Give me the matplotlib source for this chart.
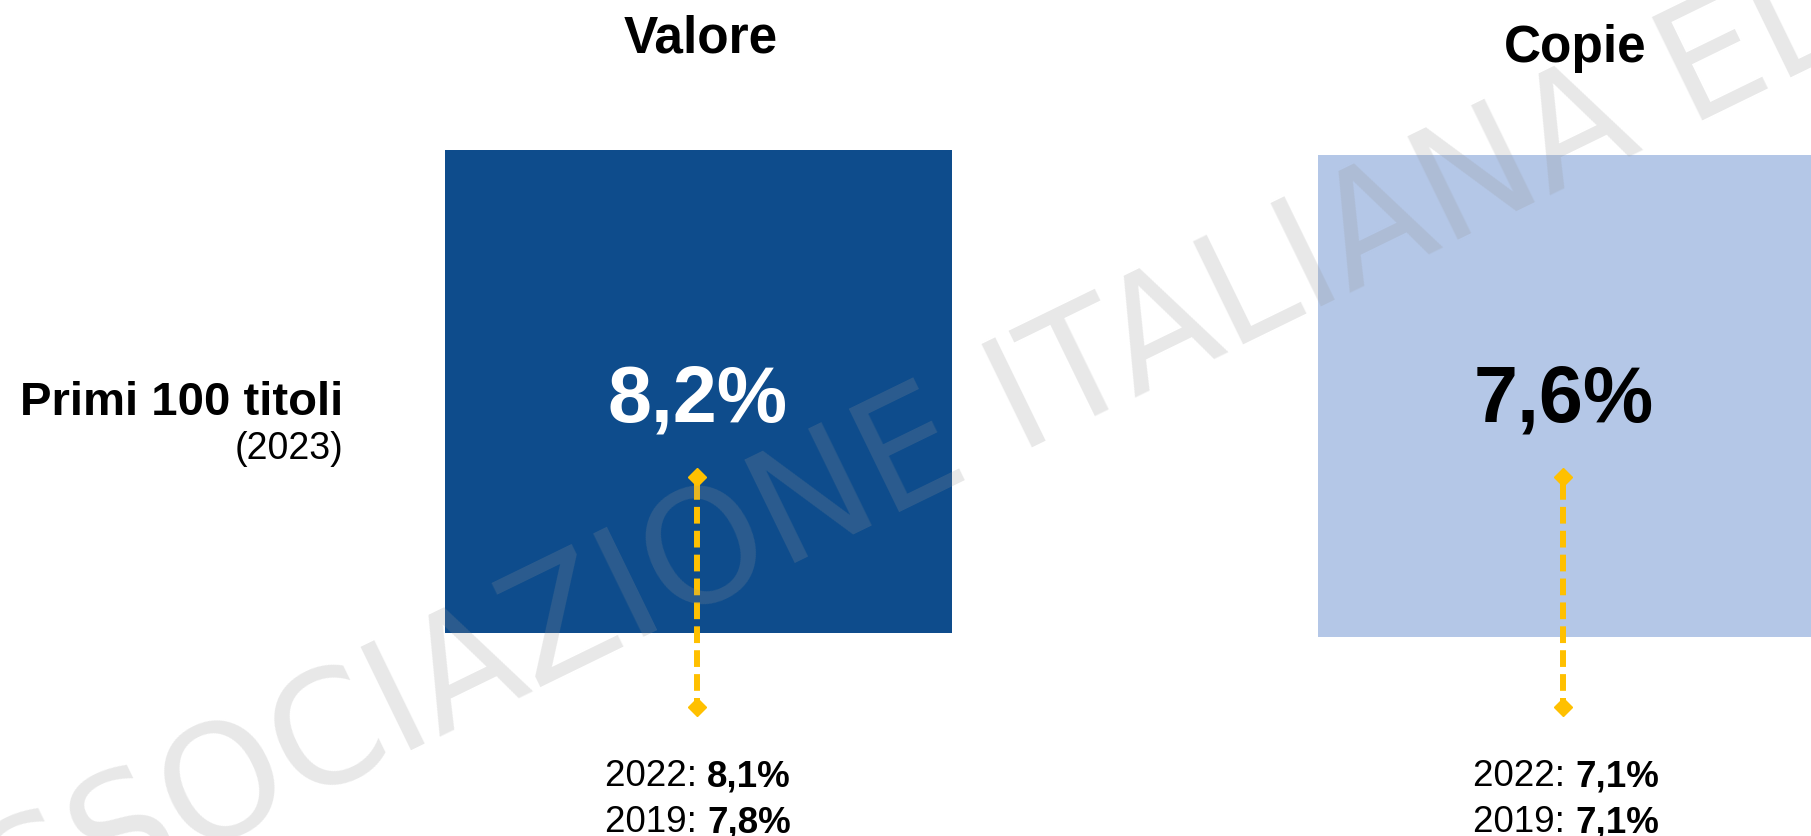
import matplotlib
matplotlib.use("Agg")
import matplotlib.pyplot as plt
from matplotlib.patches import Rectangle

# ---- data ----
panels = ["Valore", "Copie"]
share_2023 = [8.2, 7.6]
share_2022 = [8.1, 7.1]
share_2019 = [7.8, 7.1]
row_label = "Primi 100 titoli"
row_year = "(2023)"
watermark = "ASSOCIAZIONE ITALIANA EDITORI"

def fmt(v):
    return f"{v:.1f}".replace(".", ",") + "%"

plt.rcParams['font.family'] = ['Liberation Sans', 'DejaVu Sans']

W, H = 1811, 837
fig = plt.figure(figsize=(W / 100, H / 100), dpi=100)
ax = fig.add_axes([0, 0, 1, 1])
ax.set_xlim(0, W)
ax.set_ylim(H, 0)
ax.axis('off')

# layout (pixel coords)
box_x = [445, 1318]
box_w = [507, 520]
box_top = [151, 156]
box_h = [483, 482]
title_y = [39, 48]
title_x = [701, 1575]
fills = ['#0E4C8C', '#B4C7E7']
value_colors = ['white', 'black']
arrow_x = [697, 1563]
bottom_x = [605, 1473]

for i, name in enumerate(panels):
    ax.add_patch(Rectangle((box_x[i], box_top[i]), box_w[i], box_h[i],
                           facecolor=fills[i], edgecolor='none', zorder=1))
    ax.text(title_x[i], title_y[i], name, ha='center', va='center',
            fontsize=37, fontweight='bold', color='black', zorder=3)
    ax.text(arrow_x[i] + 1, 401, fmt(share_2023[i]), ha='center', va='center',
            fontsize=57, fontweight='bold', color=value_colors[i], zorder=3)
    # dashed arrow with diamond ends
    ax.plot([arrow_x[i], arrow_x[i]], [484, 702], color='#FFC000', lw=4.3,
            dashes=(2.8, 1.2), solid_capstyle='butt', zorder=4)
    ax.plot([arrow_x[i], arrow_x[i]], [478, 708], linestyle='none', marker='D',
            ms=9, color='#FFC000', zorder=4)
    # previous years
    for j, (yr, val) in enumerate([("2022", share_2022[i]), ("2019", share_2019[i])]):
        y = 777 + j * 46
        t = ax.text(bottom_x[i], y, f"{yr}: ", ha='left', va='center',
                    fontsize=26.5, color='black', zorder=3)
        ax.annotate(fmt(val), xy=(1, 0.5), xycoords=t, ha='left', va='center',
                    fontsize=26.5, fontweight='bold', color='black', zorder=3)

ax.text(343, 403, row_label, ha='right', va='center', fontsize=34,
        fontweight='bold', color='black', zorder=3)
ax.text(343, 449, row_year, ha='right', va='center', fontsize=27,
        color='black', zorder=3)

# watermark
ax.text(1070, 381, watermark, ha='center', va='center', rotation=26,
        rotation_mode='anchor', fontsize=112, family=['DejaVu Sans'],
        color='#969696', alpha=0.22, zorder=5)

fig.savefig("out.png", dpi=100)
